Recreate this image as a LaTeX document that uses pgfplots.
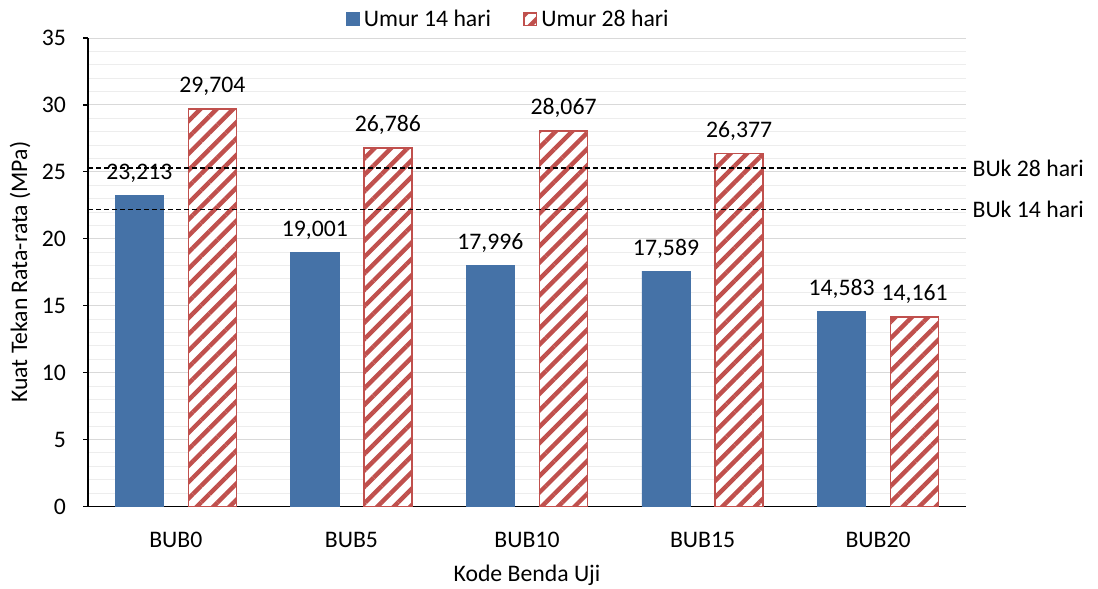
\documentclass[border=0pt]{standalone}
\usepackage{fontspec}
\setmainfont{Carlito}
\usepackage{pgfplots}
\pgfplotsset{compat=1.18}
\usetikzlibrary{patterns.meta}

\definecolor{barblue}{HTML}{4572A7}
\definecolor{barred}{HTML}{C0504D}

\begin{document}
\begin{tikzpicture}[font=\fontsize{11.85}{14}\selectfont]
\path[use as bounding box] (-44pt,-41pt) rectangle (504.5pt,253pt);
\begin{axis}[
  scale only axis, width=438.5pt, height=234pt,
  xmin=-0.5, xmax=4.5, ymin=0, ymax=35,
  clip=false,
  axis x line=bottom, axis y line=left,
  axis line style={-, black, line width=0.6pt},
  xtick={0,1,2,3,4},
  xticklabels={BUB0,BUB5,BUB10,BUB15,BUB20},
  xtick style={draw=none},
  ytick={0,5,...,35},
  tick align=outside, major tick length=2.5pt,
  ytick style={black, line width=0.6pt},
  minor y tick num=4, minor tick length=0pt,
  ymajorgrids, yminorgrids,
  major grid style={gray!30, line width=0.5pt},
  minor grid style={gray!14, line width=0.5pt},
  /pgf/number format/assume math mode=true,
  yticklabel style={xshift=-5pt},
  xticklabel style={yshift=-7pt},
  ylabel={Kuat Tekan Rata-rata (MPa)},
  ylabel style={at={(axis description cs:-0.0775,0.5)}, anchor=center},
  xlabel={Kode Benda Uji},
  xlabel style={at={(axis description cs:0.5,-0.147)}, anchor=center},
  legend style={draw=none, fill=none, legend columns=2,
    at={(axis description cs:0.48,1.04)}, anchor=center,
    /tikz/every even column/.append style={column sep=14pt}},
  legend image code/.code={\draw[#1] (0pt,-3.2pt) rectangle (6.4pt,3.2pt);},
  nodes near coords, point meta=explicit symbolic,
  every node near coord/.append style={anchor=base, yshift=8pt, black},
]
\addplot[ybar, bar width=24pt, bar shift=-18.25pt, fill=barblue, draw=barblue,
  every node near coord/.append style={xshift=-18.25pt}]
  coordinates {(0,23.213)[23,213] (1,19.001)[19,001] (2,17.996)[17,996] (3,17.589)[17,589] (4,14.583)[14,583]};
\addlegendentry{Umur 14 hari}
\addplot[ybar, bar width=24pt, bar shift=18.25pt, fill=white, draw=barred, line width=0.75pt,
  postaction={pattern={Lines[angle=45, distance=5.8pt, line width=2.2pt]}, pattern color=barred},
  every node near coord/.append style={xshift=18.25pt}]
  coordinates {(0,29.704)[29,704] (1,26.786)[26,786] (2,28.067)[28,067] (3,26.377)[26,377] (4,14.161)[14,161]};
\addlegendentry{Umur 28 hari}
\addplot[sharp plot, forget plot, black, line width=0.7pt, dash pattern=on 2.5pt off 1.5pt, nodes near coords={}]
  coordinates {(-0.5,25.3) (4.5,25.3)} node[pos=1, anchor=west, black, inner sep=3pt] {BUk 28 hari};
\addplot[sharp plot, forget plot, black, line width=0.7pt, dash pattern=on 2.5pt off 1.5pt, nodes near coords={}]
  coordinates {(-0.5,22.2) (4.5,22.2)} node[pos=1, anchor=west, black, inner sep=3pt] {BUk 14 hari};
\end{axis}
\end{tikzpicture}
\end{document}
